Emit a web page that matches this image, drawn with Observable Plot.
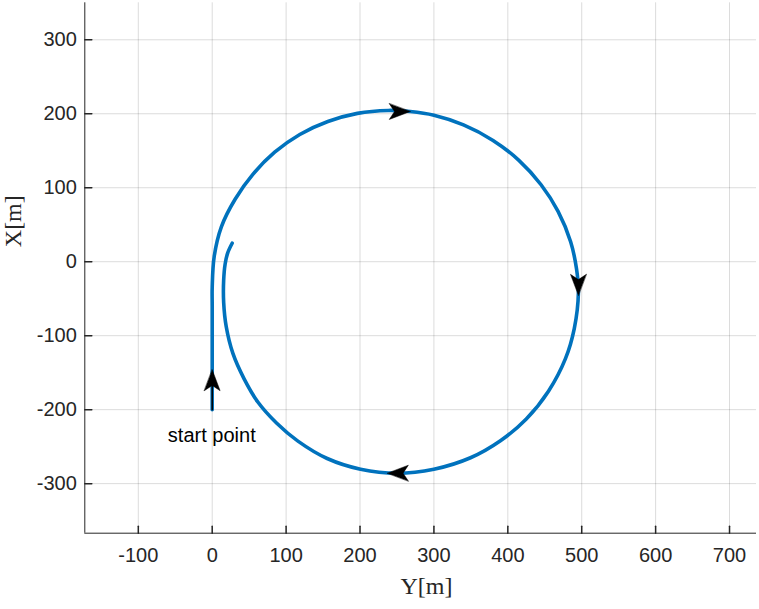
<!DOCTYPE html>
<html><head><meta charset="utf-8">
<script src="https://cdn.jsdelivr.net/npm/d3@7"></script>
<script src="https://cdn.jsdelivr.net/npm/@observablehq/plot@0.6"></script>
<style>body{margin:0;background:#fff}</style>
</head><body><div id="chart"></div>
<script>
// Trajectory: horizontal axis is Y[m], vertical axis is X[m]
const pathY = [0, 0, 0, 0, 2.6, 12.5, 31, 55, 84.5, 118.5, 156.5, 196.5, 238, 268, 300, 340, 380, 415, 445, 468, 485, 493, 495.5, 490, 478, 455, 425, 390, 349.5, 300, 250, 200.7, 155.6, 116, 87, 62, 43, 28, 19, 15.5, 15.5, 17.5, 21, 27];
const pathX = [-200, -120, -60, -35, 6.5, 47.5, 84.5, 118, 148, 172, 189.5, 200.5, 204.5, 203, 198, 185, 164, 137, 104, 68, 27, -10, -42, -90, -131, -175, -212.5, -242, -265, -280.5, -286, -280.5, -266, -242.5, -218, -190, -158, -124, -88, -55, -25, -3, 12, 25];
const xTicks = [-100, 0, 100, 200, 300, 400, 500, 600, 700];
const yTicks = [-300, -200, -100, 0, 100, 200, 300];
const xDomain = [-172.4, 736.5];
const yDomain = [-367, 350];
const arrowY = [0, 268, 495.5, 237];
const arrowX = [-146, 203, -45.5, -285.8];
const arrowDir = [0, 90, 180, 270];
const shaftY = [0, 0];
const shaftX = [-200, -155];
const noteText = ["start point"];
const noteY = [-60];
const noteX = [-235];

const path = pathY.map((v, i) => ({h: v, v: pathX[i]}));
const shaft = shaftY.map((v, i) => ({h: v, v: shaftX[i]}));
const arrows = arrowY.map((v, i) => ({h: v, v: arrowX[i], r: arrowDir[i]}));
const notes = noteText.map((t, i) => ({t, h: noteY[i], v: noteX[i]}));

const lineShape = {draw(ctx, l) { ctx.moveTo(0, 0); ctx.lineTo(0, -l); }};
const headShape = {draw(ctx, l) {
  const w = l * 0.377;
  ctx.moveTo(0, -l); ctx.lineTo(w, 0); ctx.lineTo(0, -l * 0.25); ctx.lineTo(-w, 0); ctx.closePath();
}};
const fmt = d => String(d);

const chart = Plot.plot({
  width: 759, height: 609,
  marginLeft: 84.3, marginRight: 3, marginTop: 2.3, marginBottom: 76.3,
  x: {domain: xDomain},
  y: {domain: yDomain},
  style: {fontFamily: "Liberation Sans, Arial, sans-serif", fontSize: "20px", color: "#262626", background: "white"},
  marks: [
    Plot.gridX(xTicks, {stroke: "#000", strokeOpacity: 0.14}),
    Plot.gridY(yTicks, {stroke: "#000", strokeOpacity: 0.14}),
    Plot.axisX(xTicks, {tickSize: 0, tickPadding: 14.5, fontSize: 20, label: null, tickFormat: fmt}),
    Plot.axisY(yTicks, {tickSize: 0, tickPadding: 8, fontSize: 20, label: null, tickFormat: fmt}),
    Plot.vector(xTicks, {x: d => d, frameAnchor: "bottom", length: 7, shape: lineShape, anchor: "start", stroke: "#262626"}),
    Plot.vector(yTicks, {y: d => d, frameAnchor: "left", rotate: 90, length: 7, shape: lineShape, anchor: "start", stroke: "#262626"}),
    Plot.ruleX([xDomain[0]], {stroke: "#262626"}),
    Plot.ruleY([yDomain[0]], {stroke: "#262626"}),
    Plot.line(path, {x: "h", y: "v", stroke: "#0072BD", strokeWidth: 3.6, curve: "catmull-rom"}),
    Plot.line(shaft, {x: "h", y: "v", stroke: "black", strokeWidth: 1.5}),
    Plot.vector(arrows, {x: "h", y: "v", rotate: "r", length: 21, shape: headShape, anchor: "end", fill: "black", stroke: "black", strokeWidth: 0.5}),
    Plot.text(notes, {x: "h", y: "v", text: "t", textAnchor: "start", fill: "black", fontSize: 20}),
    Plot.text(["Y[m]"], {frameAnchor: "bottom", dx: 5.8, dy: 61, fontFamily: "Liberation Serif, serif", fontSize: 24, fill: "#262626"}),
    Plot.text(["X[m]"], {frameAnchor: "left", rotate: -90, dx: -71.6, dy: -20.8, fontFamily: "Liberation Serif, serif", fontSize: 24, fill: "#262626"})
  ]
});
document.getElementById("chart").appendChild(chart);
</script>
</body></html>
